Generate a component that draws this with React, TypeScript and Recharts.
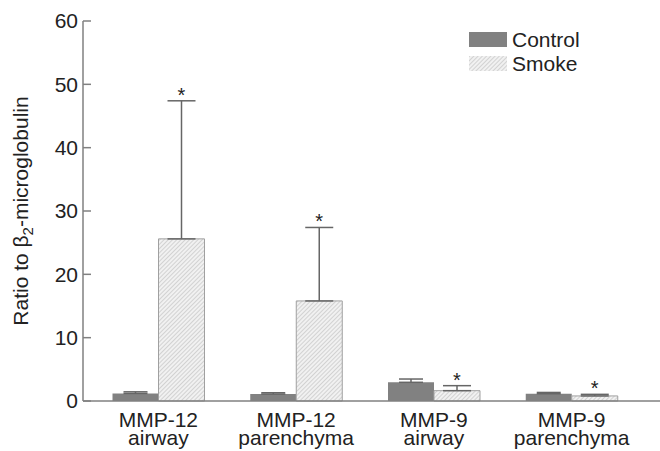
import React from 'react';
import { BarChart, Bar, XAxis, YAxis, ErrorBar, Legend, LabelList } from 'recharts';

// values (ratio to beta2-microglobulin)
const categoryTop = ['MMP-12', 'MMP-12', 'MMP-9', 'MMP-9'];
const categoryBottom = ['airway', 'parenchyma', 'airway', 'parenchyma'];
const control = [1.2, 1.1, 2.95, 1.15];
const controlErr = [0.25, 0.2, 0.52, 0.2];
const smoke = [25.6, 15.8, 1.63, 0.8];
const smokeErr = [21.8, 11.6, 0.79, 0.25];
const yTicks = [0, 10, 20, 30, 40, 50, 60];

const FONT = '"Liberation Sans", Arial, Helvetica, sans-serif';
const TEXT = '#222';
const AXIS = '#808080';

const data = categoryTop.map((top, i) => ({
  name: `${top} ${categoryBottom[i]}`,
  control: control[i],
  controlErr: [0, controlErr[i]],
  smoke: smoke[i],
  smokeErr: [0, smokeErr[i]],
}));

const YTick = ({ x, y, payload }: any) => (
  <g>
    <text x={x} y={y} dy="0.35em" textAnchor="end" fontSize={21} fontFamily={FONT} fill={TEXT}>
      {payload.value}
    </text>
    <line x1={x + 5} x2={x + 13} y1={y} y2={y} stroke={AXIS} strokeWidth={1.5} />
  </g>
);

// two-line category label
const XTick = ({ x, y, payload, index }: any) => {
  const i = typeof index === 'number' ? index : payload.index;
  return (
    <g>
      <text x={x} y={y + 25.5} textAnchor="middle" fontSize={21} fontFamily={FONT} fill={TEXT}>
        {categoryTop[i]}
      </text>
      <text x={x} y={y + 44} textAnchor="middle" fontSize={21} fontFamily={FONT} fill={TEXT}>
        {categoryBottom[i]}
      </text>
    </g>
  );
};

const YTitle = ({ viewBox }: any) => {
  const cy = viewBox ? viewBox.y + viewBox.height / 2 : 211;
  const cx = 28;
  return (
    <text
      x={cx}
      y={cy}
      transform={`rotate(-90, ${cx}, ${cy})`}
      textAnchor="middle"
      fontSize={21}
      fontFamily={FONT}
      fill={TEXT}
    >
      Ratio to β<tspan dy={5} fontSize={15}>2</tspan>
      <tspan dy={-5}>-microglobulin</tspan>
    </text>
  );
};

// asterisk above each smoke error bar
const Star = (props: any) => {
  const { x, y, width, height, index } = props;
  const v = smoke[index];
  const pxPerUnit = v ? height / v : 0;
  const top = y - smokeErr[index] * pxPerUnit;
  return (
    <text x={x + width / 2} y={top + 1} textAnchor="middle" fontSize={20} fontFamily={FONT} fill={TEXT}>
      *
    </text>
  );
};

const renderLegend = ({ payload }: any) => (
  <div style={{ fontFamily: FONT, fontSize: 21, color: TEXT }}>
    {(payload || []).map((entry: any) => (
      <div key={entry.value} style={{ display: 'flex', alignItems: 'center', height: 24, lineHeight: '24px' }}>
        <svg width={38} height={15} style={{ marginRight: 5, display: 'block' }}>
          <rect x={0} y={0} width={38} height={15} fill={entry.color} />
        </svg>
        <span>{entry.value}</span>
      </div>
    ))}
  </div>
);

export default function App() {
  return (
    <div style={{ position: 'absolute', left: 0, top: 0, background: '#fff' }}>
      <BarChart
        width={660}
        height={451}
        data={data}
        margin={{ top: 21, right: 0, bottom: 0, left: 0 }}
        barGap={0}
      >
        <defs>
          <pattern id="hatch" patternUnits="userSpaceOnUse" width="3" height="3" patternTransform="rotate(45)">
            <rect width="3" height="3" fill="#f1f1f1" />
            <line x1="0" y1="0" x2="0" y2="3" stroke="#b4b4b4" strokeWidth="1" />
          </pattern>
        </defs>
        <XAxis
          dataKey="name"
          interval={0}
          height={50}
          padding={{ left: 6.5, right: 19.5 }}
          tickLine={false}
          tickSize={0}
          tickMargin={0}
          stroke={AXIS}
          strokeWidth={1.5}
          tick={<XTick />}
        />
        <YAxis
          width={83}
          domain={[0, 60]}
          ticks={yTicks}
          interval={0}
          tickLine={false}
          tickSize={0}
          tickMargin={5}
          stroke={AXIS}
          strokeWidth={1.5}
          tick={<YTick />}
          label={<YTitle />}
        />
        <Legend
          layout="horizontal"
          verticalAlign="middle"
          align="center"
          wrapperStyle={{ left: 469, top: 27.5, width: 'auto', height: 'auto' }}
          content={renderLegend}
        />
        <Bar dataKey="control" name="Control" fill="#818181" barSize={46} isAnimationActive={false}>
          <ErrorBar dataKey="controlErr" width={12} stroke="#666" strokeWidth={1.5} direction="y" />
        </Bar>
        <Bar
          dataKey="smoke"
          name="Smoke"
          fill="url(#hatch)"
          stroke="#a0a0a0"
          strokeWidth={1}
          barSize={46}
          isAnimationActive={false}
        >
          <ErrorBar dataKey="smokeErr" width={14} stroke="#666" strokeWidth={1.5} direction="y" />
          <LabelList dataKey="smoke" content={<Star />} />
        </Bar>
      </BarChart>
    </div>
  );
}
